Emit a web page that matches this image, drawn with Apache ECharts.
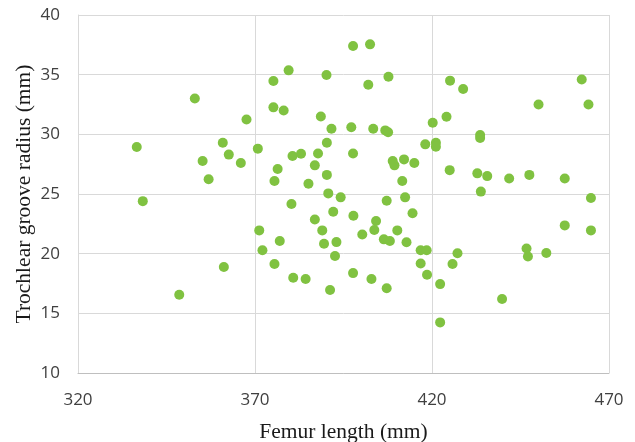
<!DOCTYPE html>
<html><head><meta charset="utf-8">
<script src="https://cdn.jsdelivr.net/npm/echarts@6/dist/echarts.min.js"></script>
<style>html,body{margin:0;padding:0;background:#fff}#c{width:635px;height:442px}</style>
</head><body><div id="c"></div>
<script>
var xTitle = "Femur length (mm)";
var yTitle = "Trochlear groove radius (mm)";
var femurLength = [353.0,367.6,336.6,360.9,370.8,362.6,355.2,366.0,356.9,338.3,375.2,375.2,
397.7,402.5,379.5,390.2,407.7,402.0,378.1,388.6,391.6,397.2,403.4,406.8,407.6,420.2,424.1,425.1,428.8,
390.3,380.6,383.0,387.8,397.7,386.9,408.9,409.4,412.1,415.0,418.1,421.1,421.1,376.4,375.5,385.1,390.3,411.6,425.0,
462.3,464.2,450.1,433.6,433.6,432.8,435.6,441.8,447.5,457.5,433.8,464.9,
371.2,372.1,361.2,348.6,375.5,
390.7,394.2,380.3,407.2,412.4,392.1,397.8,414.5,386.9,404.2,403.7,389.0,410.2,400.3,406.4,408.1,377.0,389.5,393.0,412.8,
416.8,418.5,392.6,416.8,418.6,422.3,380.8,384.3,397.7,402.9,407.2,391.2,422.3,425.8,
457.5,464.9,427.2,439.8,446.7,447.1,452.3];
var grooveRadius = [33.0,31.25,28.94,29.3,28.8,28.3,27.76,27.6,26.23,24.4,34.47,32.26,
37.4,37.54,35.36,34.97,34.83,34.16,32.0,31.5,30.47,30.59,30.47,30.33,30.17,30.97,31.48,34.5,33.8,
29.3,28.18,28.38,28.4,28.4,27.4,27.76,27.4,27.9,27.6,29.16,29.3,28.96,27.1,26.09,25.86,26.6,26.09,27.0,
34.6,32.5,32.5,29.94,29.7,26.73,26.5,26.3,26.6,26.3,25.2,24.66,
21.95,20.28,18.88,16.56,19.13,
25.05,24.72,24.16,24.44,24.72,23.51,23.18,23.38,22.87,22.73,21.98,21.95,21.95,21.6,21.2,21.06,21.06,20.83,20.97,20.95,
20.28,20.28,19.8,19.18,18.23,17.45,17.98,17.87,18.37,17.87,17.1,16.95,14.24,19.13,
22.37,21.95,20.03,16.2,20.44,19.77,20.05];
var data = femurLength.map(function(x,i){return [x, grooveRadius[i]];});
var chart = echarts.init(document.getElementById('c'));
chart.setOption({
  animation:false,
  grid:{left:78,right:26,top:15,bottom:69,show:false,outerBoundsMode:'none',containLabel:false},
  xAxis:{type:'value',min:320,max:470,interval:50,
    name:xTitle,nameLocation:'middle',nameGap:48,nameMoveOverlap:false,
    nameTextStyle:{fontFamily:'Liberation Serif',fontSize:21.5,color:'#1a1a1a'},
    axisLine:{show:true,lineStyle:{color:'#bfbfbf'}},axisTick:{show:false},
    axisLabel:{fontFamily:'Open Sans',fontSize:17,color:'#404040',margin:19},
    splitLine:{show:true,lineStyle:{color:'#d9d9d9',width:1}}},
  yAxis:{type:'value',min:10,max:40,interval:5,
    name:yTitle,nameLocation:'middle',nameGap:43,nameMoveOverlap:false,
    nameTextStyle:{fontFamily:'Liberation Serif',fontSize:21.5,color:'#1a1a1a'},
    axisLine:{show:true,lineStyle:{color:'#d9d9d9'}},axisTick:{show:false},
    axisLabel:{fontFamily:'Open Sans',fontSize:17,color:'#404040',margin:18},
    splitLine:{show:true,lineStyle:{color:'#d9d9d9',width:1}}},
  series:[{type:'scatter',data:data,symbol:'circle',symbolSize:10,
    itemStyle:{color:'#80c241',opacity:1}}]
});
</script></body></html>
